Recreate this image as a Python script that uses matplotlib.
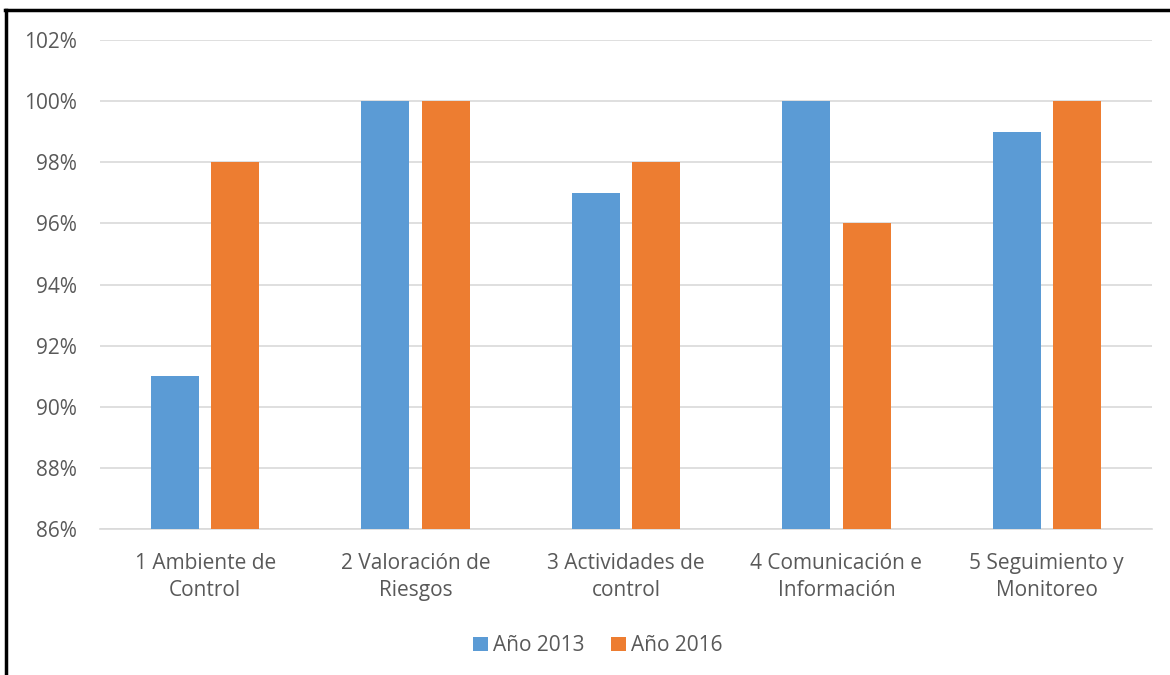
import numpy as np
import matplotlib
matplotlib.use("Agg")
import matplotlib.pyplot as plt
from matplotlib.lines import Line2D
from matplotlib.ticker import FuncFormatter

# Data
categories = ["1 Ambiente de\nControl", "2 Valoración de\nRiesgos",
              "3 Actividades de\ncontrol", "4 Comunicación e\nInformación",
              "5 Seguimiento y\nMonitoreo"]
series_names = ["Año 2013", "Año 2016"]
values_2013 = [91, 100, 97, 100, 99]
values_2016 = [98, 100, 98, 96, 100]
y_ticks = [86, 88, 90, 92, 94, 96, 98, 100, 102]

plt.rcParams['font.family'] = ['Open Sans', 'DejaVu Sans']
text_color = "#595959"
font_size = 15

fig = plt.figure(figsize=(11.7, 6.75), dpi=100)
ax = fig.add_axes([0.0855, 0.2163, 0.8991, 0.7244])

x = np.arange(len(categories))
width = 0.228
offset = 0.1435
ax.bar(x - offset, values_2013, width, color="#5B9BD5", label=series_names[0], zorder=3)
ax.bar(x + offset, values_2016, width, color="#ED7D31", label=series_names[1], zorder=3)

ax.set_xlim(-0.5, len(categories) - 0.5)
ax.set_ylim(86, 102)
ax.set_yticks(y_ticks)
ax.yaxis.set_major_formatter(FuncFormatter(lambda v, p: "{0:.0f}%".format(v)))
ax.set_xticks(x)
ax.set_xticklabels(categories, linespacing=1.4)

ax.grid(axis='y', color="#D9D9D9", linewidth=1.2, zorder=0)
for side in ["top", "right", "left"]:
    ax.spines[side].set_visible(False)
ax.spines["bottom"].set_color("#D9D9D9")
ax.spines["bottom"].set_linewidth(1.2)
ax.tick_params(axis='both', length=0, labelsize=font_size, colors=text_color)
ax.tick_params(axis='y', pad=16.5)
ax.tick_params(axis='x', pad=17)

leg = fig.legend(loc="center", bbox_to_anchor=(0.511, 0.043), ncol=2, frameon=False,
                 fontsize=font_size, handlelength=0.7, handleheight=0.7,
                 handletextpad=0.25, columnspacing=1.3)
for t in leg.get_texts():
    t.set_color(text_color)

# black border at left and top, as in the reference
fig.add_artist(Line2D([0.0055, 0.0055], [0.0, 0.985], color="black", linewidth=2.5,
                      transform=fig.transFigure))
fig.add_artist(Line2D([0.0045, 1.0], [0.985, 0.985], color="black", linewidth=2.5,
                      transform=fig.transFigure))

fig.savefig("out.png", dpi=100)
